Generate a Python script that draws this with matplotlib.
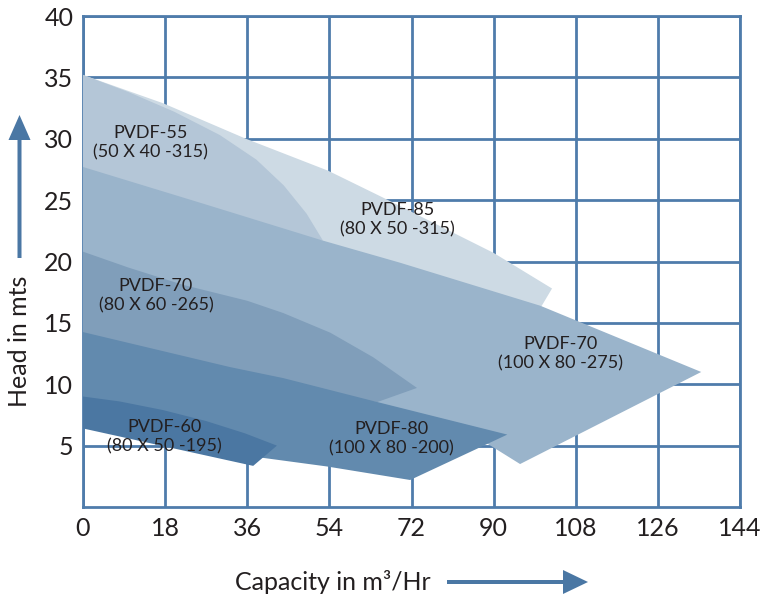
import matplotlib
matplotlib.use("Agg")
import matplotlib.pyplot as plt
from matplotlib.patches import FancyArrow

plt.rcParams['font.family'] = ['Lato', 'DejaVu Sans']

# ---------------- data ----------------
x_ticks = [0, 18, 36, 54, 72, 90, 108, 126, 144]
y_ticks = [5, 10, 15, 20, 25, 30, 35, 40]
y_tick_labels = ['5', '10', '15', '20', '25', '30', '35', '40']

# performance envelopes (capacity m3/hr, head m), back to front
pvdf85_q = [0, 17.5, 35.7, 53.7, 65.8, 90, 102.8, 100.4, 0]
pvdf85_h = [35.2, 32.9, 30.0, 27.4, 25.2, 20.7, 17.8, 16.3, 25]

pvdf55_q = [0, 10, 20, 30, 38, 44, 49, 52.6, 0]
pvdf55_h = [35.2, 33.8, 32.2, 30.3, 28.3, 26.2, 23.9, 21.7, 25]

pvdf70b_q = [0, 26, 52.6, 69.5, 100.2, 135.5, 95.8, 85, 60, 0]
pvdf70b_h = [27.7, 24.75, 21.7, 19.9, 16.4, 11.0, 3.5, 6.0, 8.0, 12]

pvdf70s_q = [0, 10, 21.9, 36, 43.9, 54.2, 63.6, 73.2, 64.5, 30, 0]
pvdf70s_h = [20.8, 19.5, 18.1, 16.8, 15.8, 14.2, 12.2, 9.7, 8.55, 10, 11]

pvdf80_q = [0, 32.2, 43.9, 64.5, 93, 71.7, 53.5, 39.5, 0]
pvdf80_h = [14.25, 11.4, 10.5, 8.55, 5.9, 2.2, 3.3, 4.0, 7.0]

pvdf60_q = [0, 8, 17.5, 27, 35.5, 42.5, 37.3, 0]
pvdf60_h = [9.0, 8.6, 7.9, 7.0, 6.0, 5.0, 3.35, 6.4]

labels = ['PVDF-85\n(80 X 50 -315)', 'PVDF-55\n(50 X 40 -315)',
          'PVDF-70\n(100 X 80 -275)', 'PVDF-70\n(80 X 60 -265)',
          'PVDF-80\n(100 X 80 -200)', 'PVDF-60\n(80 X 50 -195)']
label_q = [68.9, 14.7, 104.6, 16.0, 67.5, 17.8]
label_h = [23.4, 29.7, 12.45, 17.2, 5.6, 5.7]

colors = ['#cddae4', '#b4c6d7', '#9ab4cb', '#809eba', '#628aae', '#4b77a2']
grid_color = '#4f7cab'
text_color = '#231f20'

# ---------------- figure ----------------
W, H = 761, 598
fig = plt.figure(figsize=(W / 100, H / 100), dpi=100)
ax = fig.add_axes([83 / W, 1 - 507 / H, (740 - 83) / W, (507 - 16) / H])
ax.set_xlim(0, 144)
ax.set_ylim(0, 40)

ax.set_xticks(x_ticks)
ax.set_xticklabels([str(v) for v in x_ticks])
ax.set_yticks(y_ticks)
ax.set_yticklabels(y_tick_labels)
ax.tick_params(length=0, labelsize=18, colors=text_color, pad=7)
ax.grid(True, color=grid_color, linewidth=2.0)
ax.set_axisbelow(True)
for sp in ax.spines.values():
    sp.set_color(grid_color)
    sp.set_linewidth(2.0)
    sp.set_zorder(1.5)

shapes = [(pvdf85_q, pvdf85_h), (pvdf55_q, pvdf55_h), (pvdf70b_q, pvdf70b_h),
          (pvdf70s_q, pvdf70s_h), (pvdf80_q, pvdf80_h), (pvdf60_q, pvdf60_h)]
for i, (q, h) in enumerate(shapes):
    ax.fill(q, h, color=colors[i], lw=0, zorder=3 + i * 0.1, clip_on=False)

for t, q, h in zip(labels, label_q, label_h):
    ax.text(q, h, t, ha='center', va='center', fontsize=13, color=text_color,
            linespacing=1.25, zorder=10)

# axis titles
fig.text(27 / W, 1 - 341 / H, 'Head in mts', rotation=90, rotation_mode='anchor',
         ha='center', va='baseline', fontsize=18, color=text_color)
fig.text(235 / W, 8 / H, 'Capacity in m³/Hr', ha='left', va='baseline',
         fontsize=18, color=text_color)

arrow_color = '#4a77a4'
# horizontal arrow (inches at dpi 100)
fig.patches.append(FancyArrow(447 / 100, 16 / 100, (588 - 447) / 100, 0,
                              width=4 / 100, head_width=24 / 100, head_length=25 / 100,
                              length_includes_head=True, color=arrow_color, lw=0,
                              transform=fig.dpi_scale_trans))
# vertical arrow
fig.patches.append(FancyArrow(19.5 / 100, (598 - 258) / 100, 0, (258 - 115) / 100,
                              width=4 / 100, head_width=22 / 100, head_length=25 / 100,
                              length_includes_head=True, color=arrow_color, lw=0,
                              transform=fig.dpi_scale_trans))

fig.savefig('out.png', dpi=100)
